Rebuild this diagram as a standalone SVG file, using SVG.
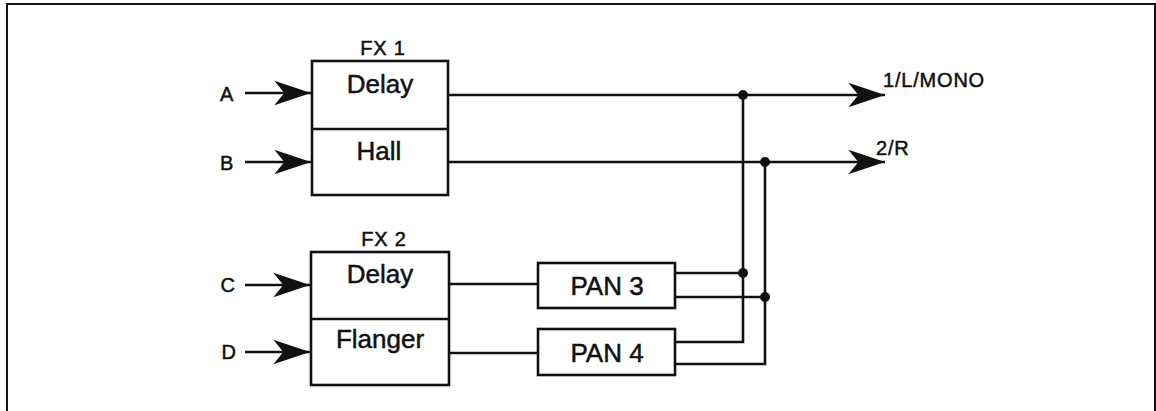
<svg xmlns="http://www.w3.org/2000/svg" width="1156" height="411" viewBox="0 0 1156 411">
<defs>
<style>
.box{fill:#fff;stroke:#111;stroke-width:2.6}
.ln{fill:none;stroke:#111;stroke-width:2.6}
.t{font-family:"Liberation Sans",Arial,sans-serif;fill:#111;stroke:#111;stroke-width:0.5}
.big{font-size:26px}
.sm{font-size:20px;letter-spacing:0.8px}
</style>
<marker id="arr" markerUnits="userSpaceOnUse" markerWidth="40" markerHeight="30" viewBox="-34 -13 36 26" refX="0" refY="0" orient="auto">
<path d="M0,0 L-33,-11 L-24,0 L-33,11 Z" fill="#111"/>
</marker>
</defs>
<rect width="1156" height="411" fill="#fff"/>
<rect x="7" y="4" width="1148" height="415" fill="none" stroke="#111" stroke-width="2"/>

<g id="connectors">
<line class="ln" x1="245" y1="93" x2="311" y2="93" marker-end="url(#arr)"/>
<line class="ln" x1="245" y1="162" x2="311" y2="162" marker-end="url(#arr)"/>
<line class="ln" x1="245" y1="285" x2="310" y2="285" marker-end="url(#arr)"/>
<line class="ln" x1="245" y1="352" x2="310" y2="352" marker-end="url(#arr)"/>
<line class="ln" x1="448" y1="95" x2="885" y2="95" marker-end="url(#arr)"/>
<line class="ln" x1="448" y1="162" x2="885" y2="162" marker-end="url(#arr)"/>
<line class="ln" x1="449" y1="284" x2="538" y2="284"/>
<line class="ln" x1="449" y1="353" x2="538" y2="353"/>
<polyline class="ln" points="675,273 743,273"/>
<polyline class="ln" points="675,297 765,297"/>
<polyline class="ln" points="675,342 743,342 743,95"/>
<polyline class="ln" points="675,364 765,364 765,162"/>
<circle cx="743" cy="95" r="5" fill="#111"/>
<circle cx="765" cy="162" r="5" fill="#111"/>
<circle cx="743" cy="273" r="5" fill="#111"/>
<circle cx="765" cy="297" r="5" fill="#111"/>
</g>

<g id="inputs">
<text class="t sm" x="227" y="101" text-anchor="middle">A</text>
<text class="t sm" x="227" y="170" text-anchor="middle">B</text>
<text class="t sm" x="228" y="292" text-anchor="middle">C</text>
<text class="t sm" x="229" y="359" text-anchor="middle">D</text>
</g>

<g id="fx1">
<rect class="box" x="312" y="61" width="136" height="134"/>
<line class="ln" x1="312" y1="129" x2="448" y2="129"/>
<text class="t sm" x="383" y="55" text-anchor="middle">FX 1</text>
<text class="t big" x="380" y="93" text-anchor="middle">Delay</text>
<text class="t big" x="379" y="160" text-anchor="middle">Hall</text>
</g>

<g id="fx2">
<rect class="box" x="311" y="252" width="138" height="133"/>
<line class="ln" x1="311" y1="319" x2="449" y2="319"/>
<text class="t sm" x="384" y="246" text-anchor="middle">FX 2</text>
<text class="t big" x="380" y="283" text-anchor="middle">Delay</text>
<text class="t big" x="380" y="348" text-anchor="middle">Flanger</text>
</g>

<g id="pan3">
<rect class="box" x="538" y="263" width="137" height="45"/>
<text class="t big" x="607" y="295" text-anchor="middle">PAN 3</text>
</g>

<g id="pan4">
<rect class="box" x="538" y="329" width="137" height="46"/>
<text class="t big" x="607" y="362" text-anchor="middle">PAN 4</text>
</g>

<g id="outputs">
<text class="t sm" x="883" y="87">1/L/MONO</text>
<text class="t sm" x="876" y="155">2/R</text>
</g>
</svg>
